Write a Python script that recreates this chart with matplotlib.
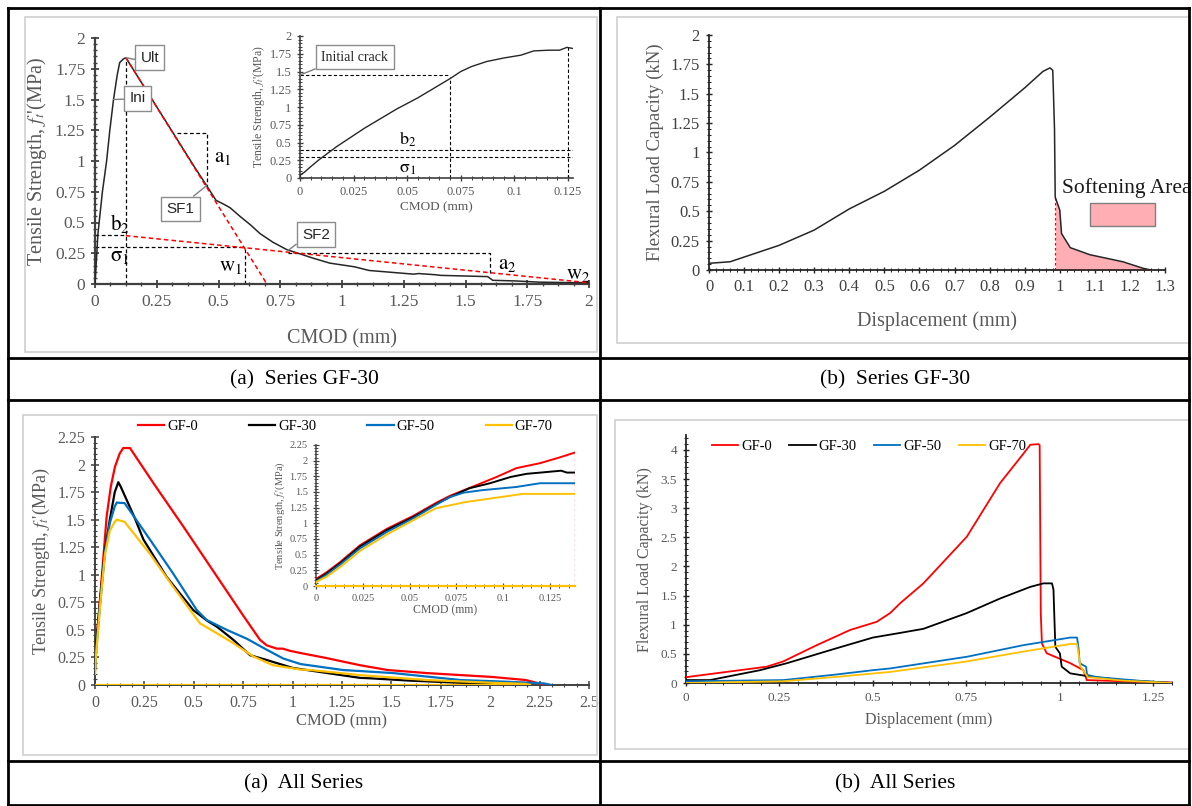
import numpy as np
import matplotlib
matplotlib.use("Agg")
import matplotlib.pyplot as plt
from matplotlib.ticker import MultipleLocator, AutoMinorLocator, FuncFormatter
from matplotlib.lines import Line2D
from matplotlib.patches import Rectangle

plt.rcParams['font.family'] = ['Liberation Serif', 'DejaVu Serif']
plt.rcParams['mathtext.fontset'] = 'stix'

# ---------------- data ----------------
# (a) Series GF-30 : tensile stress vs CMOD
gf30_cmod = [0, 0.012, 0.03, 0.047, 0.06, 0.075, 0.09, 0.1, 0.115, 0.125, 0.2, 0.3, 0.4, 0.452,
             0.49, 0.52, 0.547, 0.587, 0.63, 0.668, 0.72, 0.776, 0.83, 0.883, 0.95, 1.0, 1.05,
             1.11, 1.2, 1.29, 1.31, 1.38, 1.4, 1.5, 1.59, 1.61, 1.7, 1.8, 1.9, 2.0]
gf30_stress = [0, 0.41, 0.75, 1.0, 1.25, 1.5, 1.7, 1.8, 1.83, 1.84, 1.60, 1.28, 0.96, 0.80,
               0.68, 0.65, 0.62, 0.55, 0.48, 0.41, 0.34, 0.28, 0.245, 0.21, 0.17, 0.155, 0.14,
               0.11, 0.095, 0.08, 0.085, 0.075, 0.07, 0.065, 0.06, 0.03, 0.025, 0.015, 0.012, 0.01]
ult_pt = (0.125, 1.84)
ini_pt = (0.075, 1.5)
sf1_pt = (0.452, 0.80)
sf2_pt = (0.78, 0.27)
line1_x = [0.125, 0.696]          # red dashed softening branch 1
line1_y = [1.84, 0.0]
line2_x = [0.125, 2.0]            # red dashed softening branch 2
line2_y = [0.393, 0.01]
b2 = 0.40
sigma1 = 0.30
w1 = 0.607
a1_top = 1.23
a1_left = 0.33
a2_top = 0.25
a2_right = 1.6
a2_bottom = 0.09

# inset of (a): pre-peak part
ins30_cmod = [0, 0.002, 0.005, 0.009, 0.013, 0.017, 0.021, 0.025, 0.03, 0.035, 0.04, 0.045, 0.05,
              0.055, 0.06, 0.065, 0.07, 0.075, 0.08, 0.087, 0.095, 0.103, 0.109, 0.116, 0.121,
              0.1245, 0.128]
ins30_stress = [0.04, 0.08, 0.16, 0.26, 0.35, 0.44, 0.52, 0.60, 0.70, 0.79, 0.88, 0.97, 1.05,
                1.13, 1.22, 1.31, 1.40, 1.50, 1.57, 1.64, 1.69, 1.73, 1.79, 1.80, 1.80, 1.84, 1.82]
initial_crack = (0.07, 1.45)

# (b) Series GF-30 : flexural load vs displacement
flex30_disp = [0, 0.06, 0.2, 0.3, 0.4, 0.5, 0.6, 0.7, 0.8, 0.9, 0.952, 0.972, 0.98, 0.985, 0.987,
               1.0, 1.005, 1.03, 1.086, 1.18, 1.237, 1.26]
flex30_load = [0.057, 0.07, 0.21, 0.34, 0.52, 0.67, 0.85, 1.06, 1.30, 1.55, 1.69, 1.72, 1.70,
               1.2, 0.62, 0.51, 0.31, 0.19, 0.13, 0.07, 0.015, 0.0]
softening_start = 0.987

# (a) All series : tensile stress vs CMOD
series_names = ['GF-0', 'GF-30', 'GF-50', 'GF-70']
series_colors = ['#FF0000', '#000000', '#0070C0', '#FFC000']
t_gf0_x = [0, 0.003, 0.025, 0.059, 0.08, 0.101, 0.125, 0.143, 0.177, 0.3, 0.45, 0.6, 0.75, 0.835,
           0.869, 0.92, 0.95, 0.987, 1.04, 1.17, 1.34, 1.48, 1.68, 2.01, 2.18, 2.235, 2.27]
t_gf0_y = [0.15, 0.3, 0.77, 1.53, 1.8, 1.98, 2.1, 2.15, 2.15, 1.82, 1.43, 1.03, 0.63, 0.41,
           0.36, 0.33, 0.33, 0.31, 0.29, 0.245, 0.18, 0.136, 0.108, 0.073, 0.045, 0.02, 0.0]
t_gf30_x = [0, 0.003, 0.025, 0.05, 0.075, 0.1, 0.118, 0.13, 0.2, 0.245, 0.363, 0.497, 0.53, 0.57,
            0.616, 0.70, 0.785, 0.869, 1.0, 1.17, 1.34, 1.4, 1.59, 1.85, 2.0, 2.03]
t_gf30_y = [0.15, 0.3, 0.75, 1.22, 1.5, 1.75, 1.84, 1.80, 1.52, 1.32, 0.98, 0.68, 0.635, 0.58,
            0.53, 0.41, 0.27, 0.227, 0.155, 0.11, 0.065, 0.06, 0.04, 0.02, 0.015, 0.0]
t_gf50_x = [0, 0.003, 0.025, 0.05, 0.075, 0.1, 0.11, 0.15, 0.278, 0.396, 0.515, 0.565, 0.633,
            0.667, 0.768, 0.869, 0.953, 1.04, 1.255, 1.51, 1.85, 2.08, 2.27, 2.31]
t_gf50_y = [0.12, 0.25, 0.72, 1.2, 1.47, 1.62, 1.655, 1.65, 1.32, 1.01, 0.68, 0.59, 0.53,
            0.50, 0.42, 0.32, 0.24, 0.19, 0.136, 0.108, 0.045, 0.03, 0.015, 0.0]
t_gf70_x = [0, 0.003, 0.025, 0.05, 0.075, 0.1, 0.11, 0.15, 0.278, 0.396, 0.531, 0.616, 0.70,
            0.80, 0.90, 1.04, 1.09, 1.34, 1.68, 2.01, 2.18, 2.2]
t_gf70_y = [0.1, 0.22, 0.7, 1.18, 1.4, 1.48, 1.50, 1.48, 1.19, 0.89, 0.56, 0.47, 0.38,
            0.26, 0.18, 0.14, 0.136, 0.09, 0.045, 0.02, 0.01, 0.0]

# inset of (a) All series
i_gf0_x = [0, 0.0004, 0.0057, 0.0128, 0.0235, 0.0377, 0.052, 0.0644, 0.0716, 0.0858, 0.0965,
           0.107, 0.1197, 0.13, 0.1384]
i_gf0_y = [0.1, 0.12, 0.22, 0.38, 0.65, 0.91, 1.12, 1.33, 1.44, 1.61, 1.74, 1.88, 1.96, 2.05, 2.13]
i_gf30_x = [0, 0.0004, 0.0057, 0.0128, 0.0235, 0.0377, 0.052, 0.0644, 0.0716, 0.082, 0.093,
            0.104, 0.1125, 0.12, 0.131, 0.134, 0.1384]
i_gf30_y = [0.08, 0.1, 0.2, 0.36, 0.63, 0.89, 1.1, 1.31, 1.42, 1.56, 1.64, 1.74, 1.79, 1.81,
            1.84, 1.81, 1.81]
i_gf50_x = [0, 0.0004, 0.0057, 0.0128, 0.0235, 0.0377, 0.052, 0.0644, 0.0716, 0.079, 0.089,
            0.107, 0.1197, 0.1384]
i_gf50_y = [0.06, 0.08, 0.18, 0.34, 0.6, 0.86, 1.08, 1.3, 1.42, 1.49, 1.53, 1.58, 1.64, 1.64]
i_gf70_x = [0, 0.0004, 0.0057, 0.0128, 0.0235, 0.0377, 0.052, 0.064, 0.08, 0.0965, 0.1105, 0.1384]
i_gf70_y = [0.05, 0.07, 0.15, 0.3, 0.56, 0.82, 1.05, 1.24, 1.34, 1.41, 1.47, 1.47]

# (b) All series : flexural load vs displacement
f_gf0_x = [0, 0.216, 0.26, 0.35, 0.439, 0.51, 0.546, 0.573, 0.635, 0.751, 0.84, 0.903, 0.921,
           0.943, 0.946, 0.949, 0.952, 0.965, 1.028, 1.063, 1.072, 1.17, 1.3]
f_gf0_y = [0.1, 0.28, 0.37, 0.65, 0.91, 1.05, 1.2, 1.37, 1.71, 2.51, 3.43, 3.94, 4.09,
           4.10, 4.08, 1.2, 0.68, 0.51, 0.34, 0.22, 0.05, 0.03, 0.01]
f_gf30_x = [0, 0.064, 0.198, 0.27, 0.394, 0.5, 0.573, 0.635, 0.751, 0.84, 0.921, 0.956, 0.979,
            0.983, 0.986, 0.988, 1.0, 1.005, 1.028, 1.081, 1.17, 1.3]
f_gf30_y = [0.05, 0.05, 0.22, 0.34, 0.58, 0.78, 0.86, 0.93, 1.2, 1.45, 1.65, 1.71, 1.71,
            1.6, 1.0, 0.62, 0.51, 0.28, 0.165, 0.11, 0.05, 0.0]
f_gf50_x = [0, 0.26, 0.394, 0.5, 0.546, 0.751, 0.903, 1.028, 1.046, 1.05, 1.053, 1.07, 1.073,
            1.1, 1.21, 1.3]
f_gf50_y = [0.03, 0.05, 0.14, 0.22, 0.25, 0.45, 0.65, 0.78, 0.78, 0.6, 0.34, 0.28, 0.14,
            0.1, 0.04, 0.0]
f_gf70_x = [0, 0.26, 0.394, 0.546, 0.751, 0.903, 1.028, 1.046, 1.05, 1.055, 1.075, 1.17, 1.3]
f_gf70_y = [0.0, 0.03, 0.1, 0.19, 0.37, 0.54, 0.67, 0.67, 0.5, 0.28, 0.1, 0.04, 0.0]

captions = ['(a)  Series GF-30', '(b)  Series GF-30', '(a)  All Series', '(b)  All Series']

# ---------------- figure ----------------
W, H = 1192, 806
fig = plt.figure(figsize=(W / 100, H / 100), dpi=100)


def add_ax(x0, ytop, x1, ybot):
    return fig.add_axes([x0 / W, 1 - ybot / H, (x1 - x0) / W, (ybot - ytop) / H])


def fmt(v, pos):
    return '%g' % round(v, 4)


def style(ax, xlim, ylim, xmaj, xminor, ymaj, yminor, fs, col, spcol, lw=1.3, tl=6):
    ax.set_xlim(*xlim)
    ax.set_ylim(*ylim)
    ax.set_facecolor('none')
    for s in ['top', 'right']:
        ax.spines[s].set_visible(False)
    for s in ['left', 'bottom']:
        ax.spines[s].set_color(spcol)
        ax.spines[s].set_linewidth(lw)
    ax.xaxis.set_major_locator(MultipleLocator(xmaj))
    ax.yaxis.set_major_locator(MultipleLocator(ymaj))
    ax.xaxis.set_minor_locator(AutoMinorLocator(xminor))
    ax.yaxis.set_minor_locator(AutoMinorLocator(yminor))
    ax.xaxis.set_major_formatter(FuncFormatter(fmt))
    ax.yaxis.set_major_formatter(FuncFormatter(fmt))
    ax.tick_params(which='major', direction='inout', length=tl, width=lw * 0.8, color=spcol,
                   labelsize=fs, labelcolor=col, pad=4)
    ax.tick_params(which='minor', direction='inout', length=tl * 0.55, width=lw * 0.6, color=spcol)


def frame(x0, y0, x1, y1):
    fig.add_artist(Rectangle((x0 / W, 1 - y1 / H), (x1 - x0) / W, (y1 - y0) / H,
                             transform=fig.transFigure, fill=False, ec='#d0d0d0', lw=1.2))


frame(25, 17, 597, 352)
frame(617, 17, 1190, 343)
frame(23, 415, 597, 755)
frame(615, 420, 1190, 749)

gray = '#595959'
ylab_t = r"Tensile Strength, $f_t$'(MPa)"
dash = (0, (3, 2))

# ---- top-left ----
ax = add_ax(95, 38, 589, 284)
style(ax, (0, 2), (0, 2), 0.25, 4, 0.25, 5, 12.5, gray, '#404040', lw=1.6)
ax.plot(gf30_cmod, gf30_stress, color='#262626', lw=1.1, zorder=3)
ax.plot(line1_x, line1_y, color='red', lw=1.1, ls=dash, zorder=4)
ax.plot(line2_x, line2_y, color='red', lw=1.1, ls=dash, zorder=4)
k = dict(color='black', lw=0.9, ls=dash, zorder=2)
ax.plot([ult_pt[0], ult_pt[0]], [0, ult_pt[1]], **k)
ax.plot([0, ult_pt[0]], [b2, b2], **k)
ax.plot([0, w1], [sigma1, sigma1], **k)
ax.plot([w1, w1], [0, sigma1], **k)
ax.plot([a1_left, sf1_pt[0], sf1_pt[0]], [a1_top, a1_top, sf1_pt[1]], **k)
ax.plot([sf2_pt[0], a2_right, a2_right], [a2_top, a2_top, a2_bottom], **k)
ax.set_xlabel('CMOD (mm)', fontsize=14.5, color=gray, labelpad=14)
ax.set_ylabel(ylab_t, fontsize=14.5, color=gray, labelpad=4)
lab = dict(fontsize=15, color='black')
ax.text(0.48, 1.03, r'$\mathrm{a_1}$', ha='left', va='center', **lab)
ax.text(0.1, 0.49, r'$\mathrm{b_2}$', ha='center', va='center', **lab)
ax.text(0.1, 0.22, r'$\mathrm{\sigma_1}$', ha='center', va='center', **lab)
ax.text(0.55, 0.14, r'$\mathrm{w_1}$', ha='center', va='center', **lab)
ax.text(1.67, 0.16, r'$\mathrm{a_2}$', ha='center', va='center', **lab)
ax.text(1.955, 0.08, r'$\mathrm{w_2}$', ha='center', va='center', **lab)
box = dict(boxstyle='square,pad=0.35', fc='white', ec='#8c8c8c', lw=1)
arr = dict(arrowstyle='-', color='#7f7f7f', lw=1, shrinkA=0, shrinkB=0)
sans = ['Liberation Sans', 'DejaVu Sans']
for txt, pt, xy, rp in [('Ult', ult_pt, (0.222, 1.84), (0, 0.3)),
                        ('Ini', ini_pt, (0.172, 1.51), (0, 0.45)),
                        ('SF1', sf1_pt, (0.347, 0.61), (0.7, 1)),
                        ('SF2', sf2_pt, (0.895, 0.40), (0, 0.15))]:
    ax.annotate(txt, xy=pt, xytext=xy, ha='center', va='center', fontsize=11, family=sans,
                color='#262626', bbox=box, arrowprops=dict(relpos=rp, **arr), zorder=6)

# ---- top-left inset ----
ai = add_ax(300, 36, 573.4, 178)
style(ai, (0, 0.1275), (0, 2), 0.025, 5, 0.25, 5, 9, gray, '#404040', lw=1.2, tl=4)
ai.plot(ins30_cmod, ins30_stress, color='#262626', lw=1.0, zorder=3)
ki = dict(color='black', lw=0.8, ls=dash)
ai.plot([0, initial_crack[0]], [initial_crack[1], initial_crack[1]], **ki)
ai.plot([initial_crack[0], initial_crack[0]], [0, initial_crack[1] - 0.03], **ki)
ai.plot([0, 0.1275], [b2, b2], **ki)
ai.plot([0, 0.1275], [sigma1, sigma1], **ki)
ai.plot([ult_pt[0], ult_pt[0]], [0, ult_pt[1]], **ki)
ai.text(0.05, 0.55, r'$\mathrm{b_2}$', ha='center', va='center', fontsize=13)
ai.text(0.05, 0.13, r'$\mathrm{\sigma_1}$', ha='center', va='center', fontsize=13)
ai.annotate('Initial crack', xy=(0, initial_crack[1]), xytext=(0.0255, 1.70), ha='center',
            va='center', fontsize=10, color='#262626',
            bbox=dict(boxstyle='square,pad=0.4', fc='white', ec='#8c8c8c', lw=1),
            arrowprops=dict(relpos=(0.1, 0), **arr))
ai.set_xlabel('CMOD (mm)', fontsize=9.5, color=gray, labelpad=2)
ai.set_ylabel(ylab_t, fontsize=8.5, color=gray, labelpad=2)

# ---- top-right ----
ax = add_ax(709, 35, 1165, 270)
style(ax, (0, 1.3), (0, 2), 0.1, 5, 0.25, 5, 12, '#404040', '#262626', lw=1.3, tl=5)
ax.plot(flex30_disp, flex30_load, color='#262626', lw=1.1, zorder=3)
fx = np.array(flex30_disp)
fy = np.array(flex30_load)
m = fx >= softening_start
ax.fill_between(fx[m], 0, fy[m], color='#FFAFB4', zorder=2, lw=0)
ax.plot([softening_start, softening_start], [0, fy[m][0]], color='red', lw=0.9, ls=(0, (2, 2)))
ax.plot([softening_start, fx[-1]], [0, 0], color='red', lw=0.9, ls=(0, (2, 2)), zorder=4)
ax.text(1.006, 0.70, 'Softening Area', fontsize=15.5, ha='left', va='center', color='#1a1a1a',
        clip_on=False)
ax.add_patch(Rectangle((1.086, 0.375), 0.185, 0.195, fc='#FFAFB4', ec='#7f7f7f', lw=1,
                       clip_on=False))
ax.set_xlabel('Displacement (mm)', fontsize=14.5, color=gray, labelpad=12)
ax.set_ylabel('Flexural Load Capacity (kN)', fontsize=13.5, color=gray, labelpad=5)

# ---- bottom-left ----
ax = add_ax(95, 437, 589, 685)
style(ax, (0, 2.5), (0, 2.25), 0.25, 4, 0.25, 5, 11.5, gray, '#404040', lw=1.4)
t_series = [(t_gf0_x, t_gf0_y), (t_gf30_x, t_gf30_y), (t_gf50_x, t_gf50_y), (t_gf70_x, t_gf70_y)]
handles = []
for (xs, ys), c, n in zip(t_series, series_colors, series_names):
    h, = ax.plot(xs, ys, color=c, lw=1.6, label=n, zorder=3)
    handles.append(h)
ax.plot([t_gf70_x[0], t_gf70_x[-1]], [0, 0], color=series_colors[3], lw=1.6, zorder=3)
ax.set_xlabel('CMOD (mm)', fontsize=12, color=gray, labelpad=2)
ax.set_ylabel(ylab_t, fontsize=13, color=gray, labelpad=4)
ax.legend(handles=handles, loc='center left', bbox_to_anchor=(138 / W, 1 - 426 / H),
          bbox_transform=fig.transFigure, ncol=4, frameon=False, fontsize=10.5,
          handlelength=1.8, handletextpad=0.2, columnspacing=3.5, borderaxespad=0,
          borderpad=0)

# ---- bottom-left inset ----
ai = add_ax(316, 445, 575, 586)
style(ai, (0, 0.1384), (0, 2.25), 0.025, 5, 0.25, 5, 7.5, gray, '#404040', lw=1.1, tl=4)
i_series = [(i_gf0_x, i_gf0_y), (i_gf30_x, i_gf30_y), (i_gf50_x, i_gf50_y), (i_gf70_x, i_gf70_y)]
for (xs, ys), c in zip(i_series, series_colors):
    ai.plot(xs, ys, color=c, lw=1.4, zorder=3)
ai.plot([0, i_gf70_x[-1]], [0, 0], color=series_colors[3], lw=1.6, zorder=3, clip_on=False)
ai.plot([i_gf0_x[-1], i_gf0_x[-1]], [0, i_gf0_y[-1]], color='red', lw=0.9, ls=(0, (2, 2)))
ai.set_xlabel('CMOD (mm)', fontsize=8.5, color=gray, labelpad=1)
ai.set_ylabel(ylab_t, fontsize=7.5, color=gray, labelpad=2)

# ---- bottom-right ----
ax = add_ax(686, 435.4, 1172, 683)
style(ax, (0, 1.3), (0, 4.25), 0.25, 5, 0.5, 5, 9.5, gray, '#262626', lw=1.3, tl=5)
f_series = [(f_gf0_x, f_gf0_y), (f_gf30_x, f_gf30_y), (f_gf50_x, f_gf50_y), (f_gf70_x, f_gf70_y)]
handles = []
for (xs, ys), c, n in zip(f_series, series_colors, series_names):
    h, = ax.plot(xs, ys, color=c, lw=1.3, label=n, zorder=3)
    handles.append(h)
ax.set_xlabel('Displacement (mm)', fontsize=11.5, color=gray, labelpad=6)
ax.set_ylabel('Flexural Load Capacity (kN)', fontsize=11.5, color=gray, labelpad=5)
ax.legend(handles=handles, loc='center left', bbox_to_anchor=(712 / W, 1 - 446 / H),
          bbox_transform=fig.transFigure, ncol=4, frameon=False, fontsize=10.5,
          handlelength=1.8, handletextpad=0.2, columnspacing=1.2, borderaxespad=0,
          borderpad=0)

# ---- table lines and captions ----
def hline(y, x0=8, x1=1189):
    fig.add_artist(Line2D([x0 / W, x1 / W], [1 - y / H, 1 - y / H], color='black', lw=2,
                          transform=fig.transFigure))


def vline(x, y0=8, y1=805):
    fig.add_artist(Line2D([x / W, x / W], [1 - y0 / H, 1 - y1 / H], color='black', lw=2,
                          transform=fig.transFigure))


for y in [8, 358, 400, 761, 805]:
    hline(y)
for x in [8, 600, 1189]:
    vline(x)

cap_pos = [(304, 380), (895, 380), (304, 784), (895, 784)]
for (cx, cy), t in zip(cap_pos, captions):
    fig.text(cx / W, 1 - cy / H, t, ha='center', va='center', fontsize=15.5, color='black')

fig.savefig('out.png', dpi=100)
